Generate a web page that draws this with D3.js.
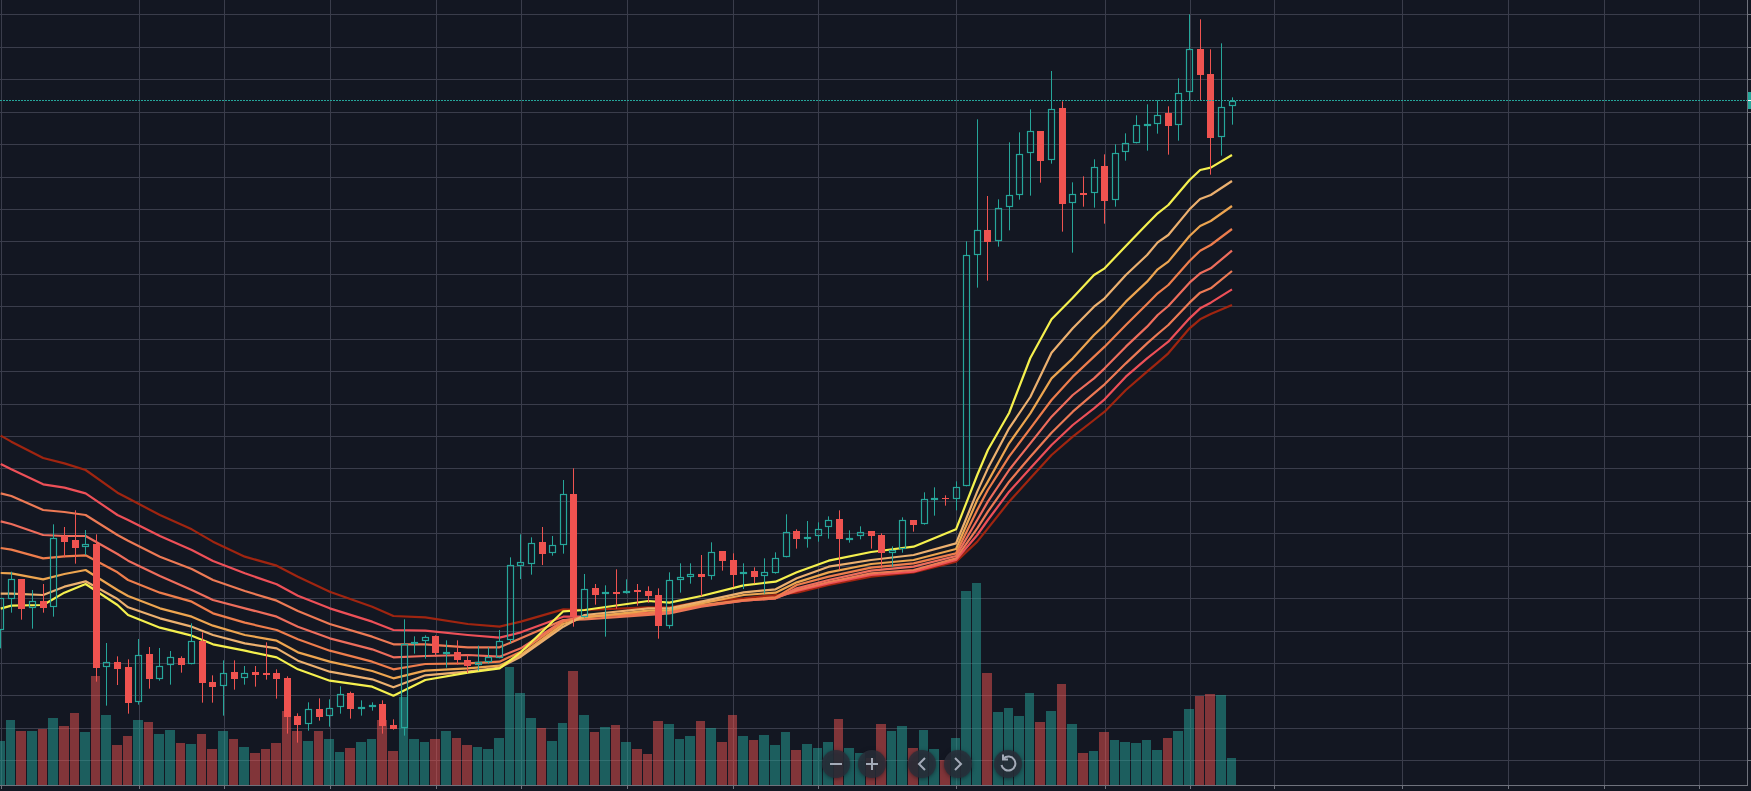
<!DOCTYPE html>
<html>
<head>
<meta charset="utf-8">
<script src="https://cdn.jsdelivr.net/npm/d3@7"></script>
<style>
  html, body { margin: 0; padding: 0; background: #131722; overflow: hidden; }
  svg { display: block; }
  .grid line { stroke: #3a3d4b; stroke-width: 1; }
  .grid path { display: none; }
  .edge line { stroke: #6f727c; stroke-width: 1; }
  .edge path { display: none; }
</style>
</head>
<body>
<div class="chart"></div>
<script>
// candles (price unit is arbitrary, no price labels are visible)
var open = [483,575,635,548,569,551,765,753,731,742,371,387,372,266,410,337,377,398,380,449,326,314,356,338,357,353,353,338,224,200,245,224,251,293,247,252,261,197,188,442,449,464,413,416,392,377,388,400,452,674,682,746,713,737,891,523,608,590,596,593,602,599,587,496,634,641,650,644,719,692,650,659,644,655,701,779,758,764,791,815,755,764,779,767,713,725,812,802,875,878,875,914,1607,1682,1649,1751,1787,1913,1979,1892,2048,1763,1793,1793,1874,1772,1916,1943,1999,2000,2033,1997,2096,2225,2150,1961,2054];
var high = [578,658,635,603,621,800,792,842,783,770,444,404,395,456,432,429,420,404,503,476,347,392,392,375,375,446,365,344,233,266,278,275,314,298,272,266,272,215,515,464,467,467,452,452,410,436,431,483,701,770,761,792,765,933,968,651,621,617,665,635,621,614,608,656,683,683,708,746,719,713,683,671,698,716,830,785,810,806,824,842,782,794,779,773,734,821,812,896,911,887,929,1649,2015,1785,1775,1946,1976,2045,1979,2160,2069,1826,1844,1895,1910,1940,1973,2027,2060,2072,2054,2138,2330,2315,2225,2243,2081];
var low = [428,535,514,487,535,523,701,682,708,328,256,318,232,259,307,331,319,355,380,265,265,226,304,319,313,334,277,172,145,181,211,193,232,217,226,241,172,184,166,412,397,403,370,379,354,361,382,398,443,636,649,678,706,712,493,520,559,463,547,592,556,565,457,487,595,622,584,634,661,611,606,623,592,652,701,727,730,748,757,663,745,755,727,668,673,715,778,799,826,856,842,914,1510,1531,1633,1682,1774,1786,1825,1882,1678,1615,1753,1750,1702,1753,1891,1943,1921,1972,1909,1951,2071,2073,1849,1906,1999];
var close = [578,637,547,571,550,760,748,730,742,370,386,367,265,409,337,376,401,379,449,325,313,355,337,355,349,349,337,223,199,247,223,250,292,247,251,259,196,186,442,448,463,415,416,394,376,388,403,451,677,686,745,712,737,890,523,607,589,596,592,601,598,586,496,634,641,650,643,718,691,649,658,643,656,700,778,755,761,787,814,755,760,778,766,713,724,812,799,875,878,875,913,1609,1682,1648,1750,1789,1912,1979,1891,2047,1762,1792,1789,1873,1771,1915,1945,1999,2000,2029,1996,2095,2227,2149,1960,2053,2071];
var volume = [133,196,163,163,169,202,178,217,160,328,211,121,148,196,190,154,166,127,124,154,109,163,139,115,97,109,127,223,163,133,163,139,100,112,130,139,196,103,265,139,130,139,163,142,121,115,109,142,355,277,202,172,133,187,343,211,160,175,181,130,109,94,193,184,139,148,193,172,130,211,148,136,151,121,160,106,124,112,130,199,112,97,81,184,163,178,112,166,109,76,142,583,607,337,220,232,208,277,190,223,304,184,97,103,160,136,130,127,136,106,142,163,229,268,274,271,82];

// moving average ribbon, sampled at the bars where the lines bend
var ribbonBars = [0,1,4,6,8,11,12,15,18,20,23,26,28,31,35,37,40,44,47,49,53,55,61,63,66,70,73,75,78,82,86,90,92,93,95,97,99,101,103,104,106,108,109,110,112,113,114,116];
var ribbon1 = [547,556,558,595,621,558,528,490,466,440,421,401,365,331,313,286,333,355,368,416,539,543,570,565,585,617,628,656,691,717,733,785,948,1023,1134,1299,1415,1480,1548,1568,1635,1701,1733,1758,1833,1863,1870,1908];
var ribbon2 = [592,592,588,613,629,576,551,518,493,468,443,428,391,358,335,311,347,358,370,403,493,528,548,548,568,596,605,638,673,693,708,743,898,968,1088,1182,1315,1388,1453,1478,1548,1608,1646,1668,1745,1776,1788,1830];
var ribbon3 = [654,653,635,651,663,603,585,548,523,496,468,451,416,388,360,338,361,368,376,408,501,521,541,543,563,588,595,626,656,681,693,726,873,928,1043,1133,1238,1298,1368,1398,1468,1528,1565,1588,1665,1695,1710,1755];
var ribbon4 = [729,724,698,704,707,656,633,595,568,533,505,483,455,421,388,365,381,383,388,418,508,523,533,541,558,573,581,618,643,670,683,713,843,903,1003,1088,1173,1243,1303,1333,1398,1461,1493,1518,1590,1621,1638,1686];
var ribbon5 = [809,801,768,765,765,711,691,645,603,573,548,523,493,458,425,401,405,408,403,428,511,523,531,538,555,571,578,608,633,661,673,705,813,868,963,1043,1123,1188,1238,1268,1333,1393,1428,1455,1525,1553,1568,1621];
var ribbon6 = [893,885,843,837,828,768,751,703,666,633,600,571,540,501,463,440,440,431,431,458,513,515,528,533,553,571,578,603,627,653,663,698,788,838,928,1003,1075,1138,1193,1220,1283,1343,1371,1398,1465,1495,1508,1560];
var ribbon7 = [981,965,920,910,893,828,813,765,723,690,653,620,586,548,508,483,481,468,460,476,523,523,535,538,555,573,581,600,623,648,658,693,768,813,898,968,1038,1098,1148,1175,1243,1298,1323,1348,1418,1448,1465,1505];
var ribbon8 = [1066,1048,999,983,963,895,878,828,785,748,703,676,643,598,553,525,521,501,493,508,545,543,551,551,568,578,588,595,618,643,656,688,748,788,868,938,1008,1063,1113,1138,1203,1258,1285,1313,1388,1415,1431,1458];
var ribbons = [ribbon8, ribbon7, ribbon6, ribbon5, ribbon4, ribbon3, ribbon2, ribbon1];
var ribbonColors = ["#a02510", "#ee5058", "#ed7a55", "#ee6d5c", "#ee7d4c", "#eda550", "#ecb06f", "#f5f04e"];

// grid positions
var timeTicks = [0,13,21,31,41,49,59,69,77,90,104,112,120,132,142,151,160];
var priceTicks = d3.range(0, 24).map(function(k) { return 2330 - 97.3 * k; });
var lastPrice = 2072;

var svgWidth = 1751;
var svgHeight = 791;
var axisY = 785;
var axisX = 1747;
var green = "#26a69a";
var red = "#ef5350";

var svg = d3.select(".chart")
  .append("svg")
  .attr("width", svgWidth)
  .attr("height", svgHeight);

var x = d3.scaleLinear().domain([0, 116]).range([0.7, 1232]);
var xSnap = x.copy().interpolate(d3.interpolateRound);
var y = d3.scaleLinear().domain([0, 2373]).range([svgHeight, 0]);
var ySnap = y.copy().interpolate(d3.interpolateRound);
// volume pane shares the bottom of the chart
var yVol = d3.scaleLinear().domain([0, 720]).range([axisY, axisY - 240]);

// grid
svg.append("g").attr("class", "grid")
  .attr("transform", "translate(0," + axisY + ")")
  .call(d3.axisBottom(xSnap).tickValues(timeTicks).tickSize(-axisY).tickFormat(""));
svg.append("g").attr("class", "grid")
  .attr("transform", "translate(" + axisX + ",0)")
  .call(d3.axisLeft(ySnap).tickValues(priceTicks).tickSize(axisX).tickFormat(""));

// volume bars
var bars = d3.range(0, volume.length);
function barLeft(i) { return Math.round(x(i) - 5.5); }
svg.append("g").selectAll("rect")
  .data(bars)
  .enter()
  .append("rect")
  .attr("x", function(i) { return barLeft(i); })
  .attr("width", function(i) { return barLeft(i + 1) - barLeft(i) - 1; })
  .attr("y", function(i) { return Math.round(yVol(volume[i])); })
  .attr("height", function(i) { return axisY - Math.round(yVol(volume[i])); })
  .attr("fill", function(i) { return close[i] >= open[i] ? green : red; })
  .attr("fill-opacity", 0.5);

// ribbon goes under the candles
ribbons.forEach(function(values, r) {
  var line = d3.line()
    .x(function(d, k) { return x(ribbonBars[k]); })
    .y(function(d) { return y(d); });
  svg.append("path")
    .attr("d", line(values))
    .attr("fill", "none")
    .attr("stroke", ribbonColors[r])
    .attr("stroke-width", 2.2)
    .attr("stroke-linejoin", "round");
});

// candles
function cx(i) { return Math.floor(x(i)) + 0.5; }
function isUp(i) { return close[i] >= open[i]; }
function bodyTop(i) { return Math.round(y(Math.max(open[i], close[i]))); }
function bodyBottom(i) { return Math.round(y(Math.min(open[i], close[i]))); }
function candleColor(i) { return isUp(i) ? green : red; }

var candles = svg.append("g");
candles.selectAll(".wick-up")
  .data(bars)
  .enter()
  .append("line")
  .attr("x1", cx).attr("x2", cx)
  .attr("y1", function(i) { return y(high[i]); })
  .attr("y2", bodyTop)
  .attr("stroke", candleColor);
candles.selectAll(".wick-down")
  .data(bars)
  .enter()
  .append("line")
  .attr("x1", cx).attr("x2", cx)
  .attr("y1", bodyBottom)
  .attr("y2", function(i) { return y(low[i]); })
  .attr("stroke", candleColor);
// up candles are hollow, down candles are solid
candles.selectAll(".body-up")
  .data(bars.filter(isUp))
  .enter()
  .append("rect")
  .attr("x", function(i) { return cx(i) - 3; })
  .attr("width", 6)
  .attr("y", function(i) { return bodyTop(i) + 0.5; })
  .attr("height", function(i) { return Math.max(1, bodyBottom(i) - bodyTop(i) - 1); })
  .attr("fill", "none")
  .attr("stroke", green)
  .attr("stroke-width", 1.2);
candles.selectAll(".body-down")
  .data(bars.filter(function(i) { return !isUp(i); }))
  .enter()
  .append("rect")
  .attr("x", function(i) { return cx(i) - 3.5; })
  .attr("width", 7)
  .attr("y", bodyTop)
  .attr("height", function(i) { return Math.max(1, bodyBottom(i) - bodyTop(i)); })
  .attr("fill", red);

// last price line and its tag
var priceY = ySnap(lastPrice) + 0.5;
svg.append("line")
  .attr("x1", 0).attr("x2", axisX)
  .attr("y1", priceY).attr("y2", priceY)
  .attr("stroke", green)
  .attr("stroke-dasharray", "2 1");

// axis edges with their short outer ticks
svg.append("g").attr("class", "edge")
  .attr("transform", "translate(0," + axisY + ")")
  .call(d3.axisBottom(xSnap).tickValues(timeTicks).tickSize(4).tickFormat(""));
svg.append("g").attr("class", "edge")
  .attr("transform", "translate(" + axisX + ",0)")
  .call(d3.axisRight(ySnap).tickValues(priceTicks).tickSize(4).tickFormat(""));
svg.append("line")
  .attr("x1", 0).attr("x2", axisX + 1)
  .attr("y1", axisY + 0.5).attr("y2", axisY + 0.5)
  .attr("stroke", "#6f727c");
svg.append("line")
  .attr("x1", axisX + 0.5).attr("x2", axisX + 0.5)
  .attr("y1", 0).attr("y2", axisY)
  .attr("stroke", "#6f727c");
svg.append("rect")
  .attr("x", axisX + 1).attr("width", 3)
  .attr("y", priceY - 8.5).attr("height", 17)
  .attr("fill", green);
svg.append("rect")
  .attr("x", axisX + 1).attr("width", 3)
  .attr("y", priceY - 0.5).attr("height", 1)
  .attr("fill", "#ffffff");

// navigation buttons over the chart
var buttons = [
  { cx: 836, path: "M-6,0H6" },
  { cx: 872, path: "M-6,0H6M0,-6V6" },
  { cx: 922, path: "M3,-6L-3,0L3,6" },
  { cx: 958, path: "M-3,-6L3,0L-3,6" },
  { cx: 1008, path: "M-4.5,-5.5A7,7 0 1 1 -6.5,1M-5,-9.5V-4.5H0" }
];
var buttonGroup = svg.selectAll(".nav")
  .data(buttons)
  .enter()
  .append("g")
  .attr("transform", function(d) { return "translate(" + d.cx + ",764)"; });
buttonGroup.append("circle")
  .attr("r", 14)
  .attr("fill", "rgba(42,46,57,0.82)")
  .style("filter", "drop-shadow(0 1px 2px rgba(10,12,18,0.6))");
buttonGroup.append("path")
  .attr("d", function(d) { return d.path; })
  .attr("fill", "none")
  .attr("stroke", "#a4abb8")
  .attr("stroke-width", 2);
</script>
</body>
</html>
